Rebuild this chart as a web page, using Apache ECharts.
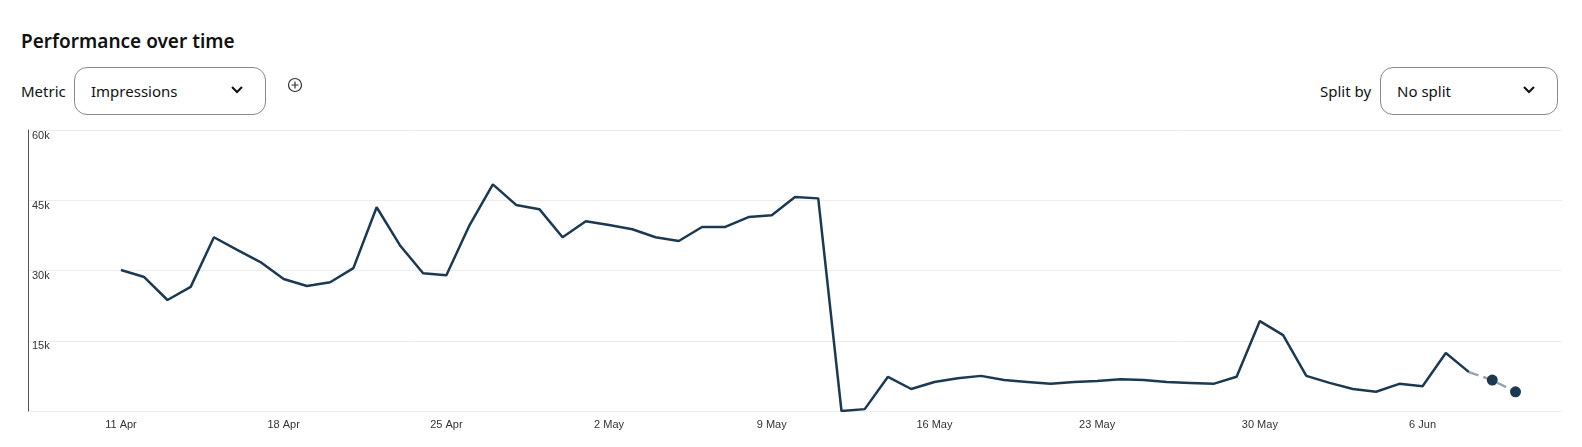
<!DOCTYPE html>
<html>
<head>
<meta charset="utf-8">
<script src="https://cdn.jsdelivr.net/npm/echarts@6/dist/echarts.min.js"></script>
<style>
html,body{margin:0;background:#fff;font-family:"Segoe UI","Noto Sans",Arial,sans-serif;color:#111;overflow:hidden;width:1582px;height:447px;}
#title{position:absolute;left:21px;top:28px;font-size:19px;font-weight:600;}
.lbl{position:absolute;top:81px;font-size:15px;}
.box{position:absolute;top:67px;height:48px;border:1px solid #8a8a8a;border-radius:13px;box-sizing:border-box;font-size:15px;line-height:46px;padding-left:16px;}
.box svg{position:absolute;right:22px;top:18px;}
#plus{position:absolute;left:287px;top:77px;}
#chart{position:absolute;left:0;top:125px;width:1582px;height:322px;}
</style>
</head>
<body>
<div id="title">Performance over time</div>
<div class="lbl" style="left:21px">Metric</div>
<div class="box" style="left:74px;width:192px">Impressions<svg width="12" height="8"><path d="M1 1 L6 6 L11 1" stroke="#111" stroke-width="2" fill="none"/></svg></div>
<svg id="plus" width="16" height="16"><circle cx="8" cy="8" r="6.5" stroke="#333" stroke-width="1.2" fill="none"/><path d="M8 4.5V11.5M4.5 8H11.5" stroke="#333" stroke-width="1.2"/></svg>
<div class="lbl" style="left:1320px">Split by</div>
<div class="box" style="left:1380px;width:178px">No split<svg width="12" height="8"><path d="M1 1 L6 6 L11 1" stroke="#111" stroke-width="2" fill="none"/></svg></div>
<div id="chart"></div>
<script>
// days from 7 Apr to 12 Jun
var months = ['Apr', 'May', 'Jun'];
var monthDays = [30, 31, 30];
var days = [];
(function () {
    var m = 0, d = 7;
    for (var i = 0; i < 67; i++) {
        days.push(d + ' ' + months[m]);
        d++;
        if (d > monthDays[m]) { d = 1; m++; }
    }
})();
var lead = 4; // data starts on 11 Apr
// impressions in thousands, 11 Apr .. 8 Jun
var actual = [30.1, 28.6, 23.7, 26.5, 37.1, 34.4, 31.8, 28.2, 26.7, 27.5, 30.5, 43.5, 35.4, 29.4, 29.0,
    39.7, 48.4, 44.0, 43.1, 37.1, 40.5, 39.7, 38.8, 37.1, 36.3, 39.3, 39.3, 41.4, 41.8, 45.7, 45.4,
    0, 0.4, 7.3, 4.7, 6.2, 7.0, 7.5, 6.6, 6.2, 5.8, 6.2, 6.4, 6.8, 6.6, 6.2, 6.0, 5.8, 7.3,
    19.2, 16.2, 7.5, 6.0, 4.7, 4.1, 5.8, 5.3, 12.4, 8.3];
// incomplete days 9 Jun, 10 Jun
var partial = [6.6, 4.1];

var mainData = [], partData = [];
for (var i = 0; i < days.length; i++) {
    var k = i - lead;
    mainData.push(k >= 0 && k < actual.length ? actual[k] * 1000 : null);
    if (k === actual.length - 1) partData.push({value: actual[k] * 1000, symbol: 'none'});
    else if (k >= actual.length && k < actual.length + partial.length) partData.push(partial[k - actual.length] * 1000);
    else partData.push(null);
}

var chart = echarts.init(document.getElementById('chart'));
chart.setOption({
    animation: false,
    grid: {left: 28, right: 20, top: 5, bottom: 36},
    xAxis: {
        type: 'category', data: days, boundaryGap: false,
        axisLine: {show: false}, axisTick: {show: false},
        axisLabel: {interval: function (i) { return (i - lead) % 7 === 0; }, color: '#333', fontSize: 11, margin: 8}
    },
    yAxis: {
        type: 'value', min: 0, max: 60000, interval: 15000,
        axisLine: {show: true, lineStyle: {color: '#555'}},
        splitLine: {lineStyle: {color: '#ececec'}},
        axisLabel: {inside: true, verticalAlign: 'top', margin: 4, color: '#333', fontSize: 11,
            formatter: function (v) { return v === 0 ? '' : v / 1000 + 'k'; }}
    },
    series: [
        {type: 'line', data: mainData, showSymbol: false, lineStyle: {color: '#1b3a52', width: 2.5}},
        {type: 'line', data: partData, symbol: 'circle', symbolSize: 11, showAllSymbol: true,
            itemStyle: {color: '#1b3a52'}, lineStyle: {color: '#9aa3ab', width: 2.5, type: 'dashed'}}
    ]
});
</script>
</body>
</html>
